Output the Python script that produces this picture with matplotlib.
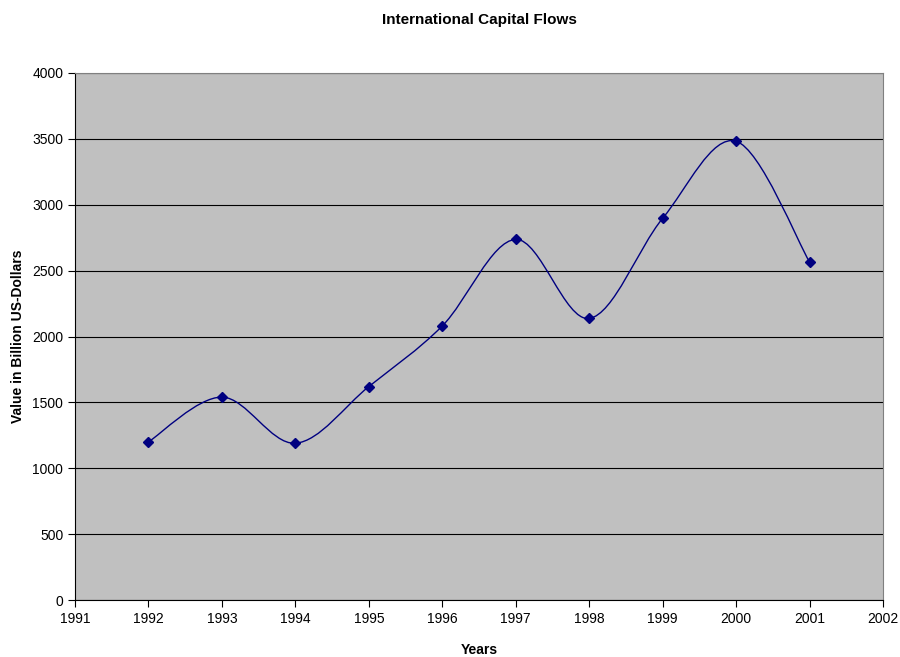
import numpy as np
import matplotlib.pyplot as plt
from matplotlib.path import Path
from matplotlib.patches import PathPatch

plt.rcParams['font.family'] = ['Liberation Sans', 'DejaVu Sans']

years = [1992, 1993, 1994, 1995, 1996, 1997, 1998, 1999, 2000, 2001]
values = [1200, 1540, 1190, 1620, 2080, 2737, 2137, 2897, 3482, 2566]
xticks = list(range(1991, 2003))
yticks = list(range(0, 4001, 500))

navy = '#000080'

fig = plt.figure(figsize=(9, 6.57), dpi=100)
ax = fig.add_axes([75/900, 1-600/657, 808/900, 527/657])
ax.set_facecolor('#C0C0C0')

# smoothed line like excel (catmull-rom bezier)
x = np.array(years, dtype=float)
y = np.array(values, dtype=float)
verts = [(x[0], y[0])]
codes = [Path.MOVETO]
n = len(x)
for i in range(n - 1):
    p0 = (x[i-1], y[i-1]) if i > 0 else (x[i], y[i])
    p1 = (x[i], y[i])
    p2 = (x[i+1], y[i+1])
    p3 = (x[i+2], y[i+2]) if i + 2 < n else (x[i+1], y[i+1])
    c1 = (p1[0] + (p2[0]-p0[0])/6, p1[1] + (p2[1]-p0[1])/6)
    c2 = (p2[0] - (p3[0]-p1[0])/6, p2[1] - (p3[1]-p1[1])/6)
    verts += [c1, c2, p2]
    codes += [Path.CURVE4]*3
ax.add_patch(PathPatch(Path(verts, codes), facecolor='none', edgecolor=navy, lw=1, zorder=3))
ax.plot(years, values, linestyle='none', marker='D', markersize=5, color=navy, zorder=4)

ax.set_xlim(1991, 2002)
ax.set_ylim(0, 4000)
ax.set_xticks(xticks)
ax.set_yticks(yticks)
ax.yaxis.grid(True, color='black', lw=0.8)
ax.set_axisbelow(True)
ax.tick_params(direction='out', length=5, width=0.8, labelsize=10, colors='black')
for s in ['top', 'right']:
    ax.spines[s].set_color('#808080')
for s in ['left', 'bottom']:
    ax.spines[s].set_color('black')

ax.set_title('International Capital Flows', fontsize=11, fontweight='bold', pad=35.5)
ax.set_xlabel('Years', fontsize=10, fontweight='bold', labelpad=12.5)
ax.set_ylabel('Value in Billion US-Dollars', fontsize=10, fontweight='bold', labelpad=5)

fig.savefig('out.png', dpi=100)
